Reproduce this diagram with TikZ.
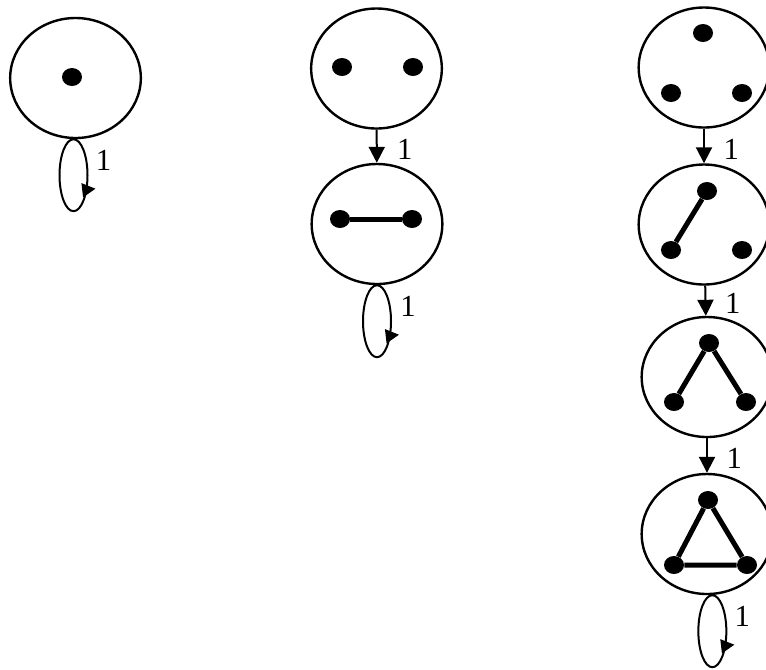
\documentclass[tikz,border=0pt]{standalone}
\usepackage{fontspec}
\setmainfont{Liberation Serif}
\usetikzlibrary{arrows.meta, positioning, shapes.geometric, calc}

\tikzset{
  state/.style={draw, ellipse, line width=1.8pt, minimum width=98pt, minimum height=90pt, inner sep=0pt},
  vert/.style={ellipse, fill, inner sep=0pt, minimum width=15pt, minimum height=13.5pt},
  bond/.style={line width=3.75pt},
  trans/.style={-{Triangle[length=12pt,width=12pt]}, line width=1.5pt},
  selfloop/.style={line width=1.5pt},
  looptip/.style={-{Triangle[length=10pt,width=10.5pt]}, line width=1pt},
  lbl/.style={font=\fontsize{23}{27}\selectfont, inner sep=0pt}
}

\begin{document}
\begin{tikzpicture}[x=0.75pt, y=-0.75pt]
    \useasboundingbox (0,0) rectangle (766,669);

    % one vertex
    \node[state] (s1) at (75.5,78) {};
    \node[vert] (v1) at (72,77) {};
    \coordinate (l1) at ([xshift=-1.5pt]s1.south);
    \draw[selfloop] (l1) arc[start angle=-90, end angle=270, x radius=14, y radius=36];
    \draw[looptip] ($(l1)+(9,51)$) -- ++(13,-1.5);
    \node[lbl] at ($(l1)+(30,21)$) {1};

    % two vertices
    \node[state] (s2a) at (376.5,68.5) {};
    \node[vert] (v2a1) at (342,67) {};
    \node[vert] (v2a2) at (413,67) {};
    \node[state] (s2b) at (377,224) {};
    \node[vert] (v2b1) at (340,219) {};
    \node[vert] (v2b2) at (412,219) {};
    \draw[bond] (v2b1) -- (v2b2);
    \draw[trans] (s2a) -- node[lbl, midway, xshift=21pt, yshift=-2.25pt] {1} (s2b);
    \coordinate (l2) at (s2b.south);
    \draw[selfloop] (l2) arc[start angle=-90, end angle=270, x radius=14, y radius=36];
    \draw[looptip] ($(l2)+(9,51)$) -- ++(13,-1.5);
    \node[lbl] at ($(l2)+(31,21)$) {1};

    % three vertices
    \node[state] (s3a) at (704,67.5) {};
    \node[vert] (v3a1) at (703,33) {};
    \node[vert] (v3a2) at (671,93) {};
    \node[vert] (v3a3) at (742,93) {};

    \node[state] (s3b) at (704,224.5) {};
    \node[vert] (v3b1) at (707,191) {};
    \node[vert] (v3b2) at (671,250) {};
    \node[vert] (v3b3) at (742,250) {};
    \draw[bond] (v3b1) -- (v3b2);

    \node[state] (s3c) at (707,377) {};
    \node[vert] (v3c1) at (709,343) {};
    \node[vert] (v3c2) at (674,402) {};
    \node[vert] (v3c3) at (746,402) {};
    \draw[bond] (v3c2) -- (v3c1) -- (v3c3);

    \node[state] (s3d) at (707,534) {};
    \node[vert] (v3d1) at (708,500) {};
    \node[vert] (v3d2) at (674,565) {};
    \node[vert] (v3d3) at (747,565) {};
    \draw[bond] (v3d1) -- (v3d2) -- (v3d3) -- (v3d1);

    \draw[trans] (s3a) -- node[lbl, midway, xshift=20.5pt, yshift=-2.25pt] {1} (s3b);
    \draw[trans] (s3b) -- node[lbl, midway, xshift=20.5pt, yshift=-2.25pt] {1} (s3c);
    \draw[trans] (s3c) -- node[lbl, midway, xshift=20.5pt, yshift=-2.25pt] {1} (s3d);
    \coordinate (l3) at ([xshift=4pt]s3d.south);
    \draw[selfloop] (l3) arc[start angle=-90, end angle=270, x radius=14, y radius=36];
    \draw[looptip] ($(l3)+(9,51)$) -- ++(13,-1.5);
    \node[lbl] at ($(l3)+(30,21)$) {1};
\end{tikzpicture}
\end{document}
